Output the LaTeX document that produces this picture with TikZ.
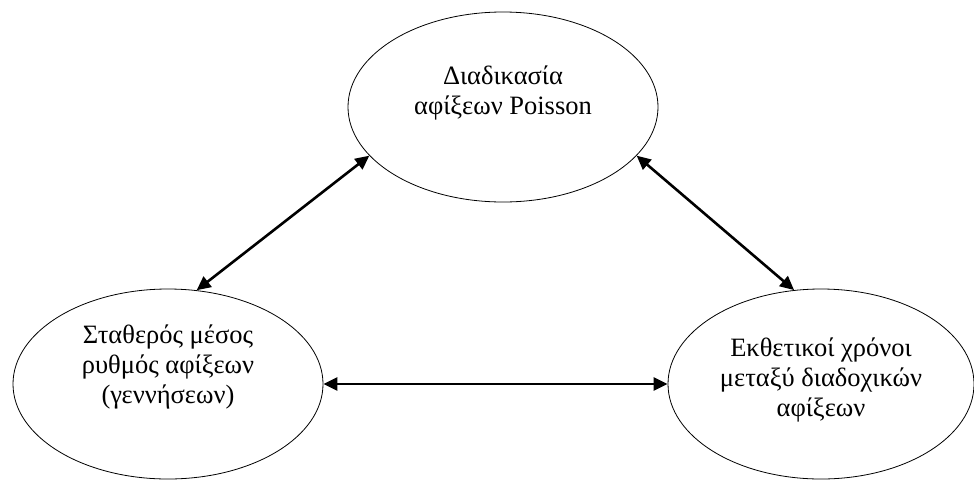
\documentclass[tikz,border=0pt]{standalone}
\usepackage{fontspec}
\setmainfont{Liberation Serif}
\usetikzlibrary{arrows.meta,shapes.geometric}

\begin{document}
\begin{tikzpicture}[
  x=1pt,
  y=-1pt,
  line cap=round,
  line join=round,
  bubble/.style={
    ellipse,
    draw=black,
    line width=0.8pt,
    inner sep=0pt,
    minimum width=310pt,
    minimum height=190pt
  },
  caption/.style={
    align=center,
    font=\fontsize{26.5}{30}\selectfont,
    text=black
  },
  link/.style={
    draw=black,
    line width=2.6pt,
    {Triangle[length=14pt,width=13pt]}-{Triangle[length=14pt,width=13pt]}
  }
]
\useasboundingbox (0,0) rectangle (974,480);

% the three ellipses
\node[bubble] (poisson) at (503,107) {};
\node[bubble] (rate)    at (168,384) {};
\node[bubble,minimum width=306pt] (expo) at (821,384) {};

% their texts, set a little above the middle
\node[caption] (poissontxt) at (503,93)  {Διαδικασία\\αφίξεων Poisson};
\node[caption] (ratetxt)    at (168,367) {Σταθερός μέσος\\ρυθμός αφίξεων\\(γεννήσεων)};
\node[caption] (expotxt)    at (821,380) {Εκθετικοί χρόνοι\\μεταξύ διαδοχικών\\αφίξεων};

% two-way links between them
\draw[link] (poisson.200) -- (rate.73);
\draw[link] (poisson.-20) -- (expo.106);
\draw[link] (rate.east) -- (expo.west);

\end{tikzpicture}
\end{document}
